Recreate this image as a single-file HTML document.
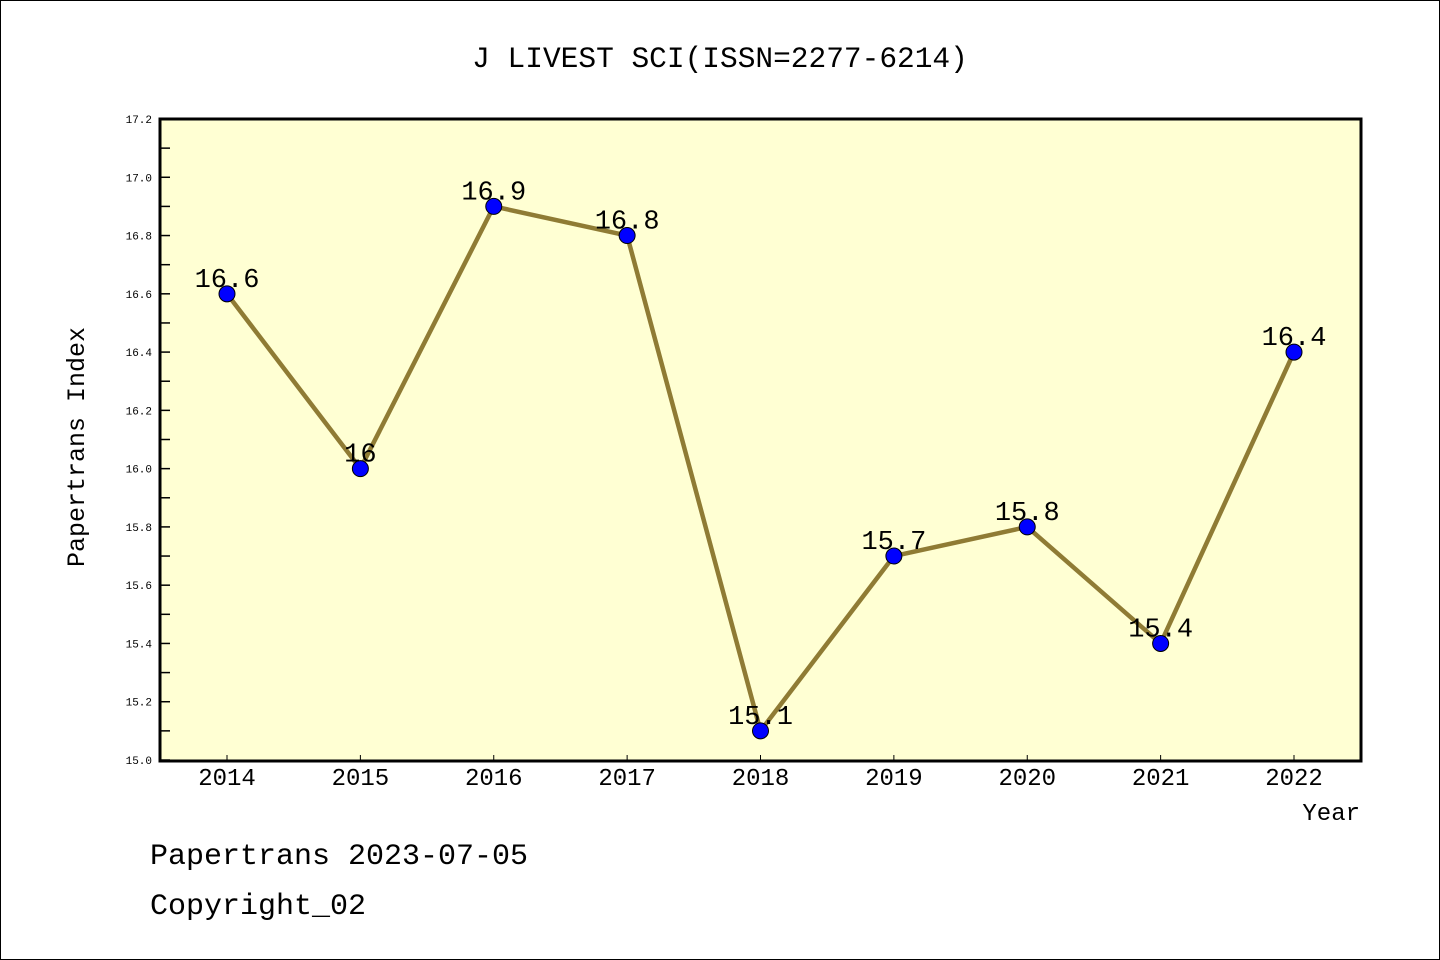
<!DOCTYPE html>
<html><head><meta charset="utf-8"><style>
html,body{margin:0;padding:0;background:#fff}
svg{display:block}
text{font-family:"Liberation Mono",monospace;fill:#000}
</style></head><body>
<svg id="chart" width="1440" height="960" viewBox="0 0 1440 960" xmlns="http://www.w3.org/2000/svg">
<rect x="0.5" y="0.5" width="1439" height="959" fill="#fff" stroke="#000" stroke-width="1"/>
<text x="720" y="67" font-size="29.5" text-anchor="middle">J LIVEST SCI(ISSN=2277-6214)</text>
<rect x="160" y="119" width="1201" height="642" fill="#ffffd3"/>
<g id="grid"></g>
<g id="marks"></g>
<rect x="160" y="119" width="1201" height="642" fill="none" stroke="#000" stroke-width="3"/>
<text transform="translate(84,447) rotate(-90)" font-size="25" text-anchor="middle">Papertrans Index</text>
<text x="1360" y="820" font-size="24" text-anchor="end">Year</text>
<text x="150" y="864" font-size="30">Papertrans 2023-07-05</text>
<text x="150" y="914" font-size="30">Copyright_02</text>
</svg>
<script>
const categories = ["2014","2015","2016","2017","2018","2019","2020","2021","2022"];
const seriesValues = [16.6, 16.0, 16.9, 16.8, 15.1, 15.7, 15.8, 15.4, 16.4];
const valueLabels = ["16.6","16","16.9","16.8","15.1","15.7","15.8","15.4","16.4"];
const yTickLabels = ["15.0","15.2","15.4","15.6","15.8","16.0","16.2","16.4","16.6","16.8","17.0","17.2"];
const yMin = 15.0, yMax = 17.2;
const NS = "http://www.w3.org/2000/svg";
function xScale(i){ return 227 + i * (1294 - 227) / (categories.length - 1); }
function yScale(v){ return 760 - (v - yMin) / (yMax - yMin) * (760 - 119); }
function mk(tag, attrs, parent){ const e = document.createElementNS(NS, tag); for (const k in attrs) e.setAttribute(k, attrs[k]); parent.appendChild(e); return e; }
const grid = document.getElementById('grid');
const marks = document.getElementById('marks');
yTickLabels.forEach(function(t){
  const v = parseFloat(t), y = yScale(v);
  const tk = mk('line', {x1:160, x2:170, y1:y, y2:y, stroke:'#000', 'stroke-width':1.5}, grid);
  
  
  const lb = mk('text', {x:152, y:y+4, 'font-size':11, 'text-anchor':'end'}, grid);
  lb.textContent = t;
  
  
  if (v + 0.1 < yMax + 1e-9) {
    const ym = yScale(v + 0.1);
    const mt = mk('line', {x1:160, x2:170, y1:ym, y2:ym, stroke:'#000', 'stroke-width':1.5}, grid);
    
    
  }
});
categories.forEach(function(c, i){
  const x = xScale(i);
  const tk = mk('line', {x1:x, x2:x, y1:760, y2:755, stroke:'#000', 'stroke-width':1}, grid);
  
  
  const lb = mk('text', {x:x, y:785, 'font-size':24, 'text-anchor':'middle'}, grid);
  lb.textContent = c;
  
  
});
const pts = seriesValues.map(function(v, i){ return xScale(i) + ',' + yScale(v); }).join(' ');
const line = mk('polyline', {points:pts, fill:'none', stroke:'#8f7b34', 'stroke-width':4.5, 'stroke-linejoin':'round'}, marks);


seriesValues.forEach(function(v, i){
  const x = xScale(i), y = yScale(v);
  const c = mk('circle', {cx:x, cy:y, r:8, fill:'#0000ff', stroke:'#000', 'stroke-width':1}, marks);
  
  
  const t = mk('text', {x:x, y:y-7, 'font-size':27, 'text-anchor':'middle'}, marks);
  t.textContent = valueLabels[i];
  
  
});
</script>
</body></html>
